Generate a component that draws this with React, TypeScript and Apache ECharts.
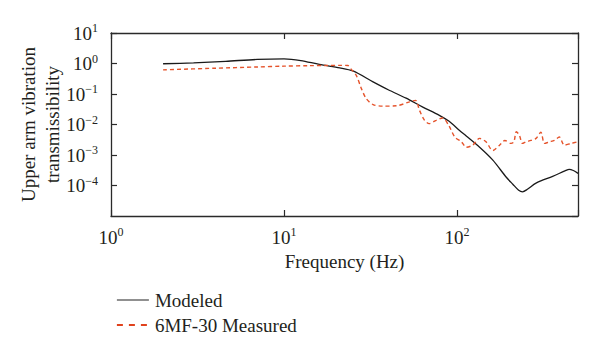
import React, { useEffect, useRef } from 'react';
import * as echarts from 'echarts';

// Modeled transmissibility (solid black)
const modeledFreq = [2, 3, 4.6, 7, 10, 12.5, 16, 21, 25, 32.7, 40, 50.8, 63, 79, 90, 103, 113, 135, 161, 192, 210, 227, 239, 255, 286, 357, 420, 445, 470, 500];
const modeledValues = [0.98, 1.05, 1.18, 1.36, 1.42, 1.25, 0.93, 0.72, 0.57, 0.25, 0.138, 0.073, 0.038, 0.02, 0.0127, 0.0065, 0.0042, 0.0018, 6.8e-4, 1.9e-4, 1.1e-4, 7e-5, 6.2e-5, 7.5e-5, 1.2e-4, 2e-4, 3e-4, 3.4e-4, 3.1e-4, 2.5e-4];

// 6MF-30 measured (dashed orange)
const measuredFreq = [2, 4, 7, 10, 14, 18, 21, 23.4, 24.5, 26.2, 28, 29.9, 32.7, 37.2, 44.5, 53, 57.5, 60.7, 64.9, 69, 75.7, 82.6, 90, 97, 106, 113, 123, 135, 147, 161, 176, 189, 205, 213, 220, 229, 239, 250, 267, 286, 305, 320, 342, 365, 390, 417, 455, 498];
const measuredValues = [0.62, 0.7, 0.77, 0.82, 0.85, 0.86, 0.87, 0.86, 0.64, 0.4, 0.15, 0.07, 0.045, 0.04, 0.041, 0.055, 0.062, 0.029, 0.0137, 0.0107, 0.0137, 0.0163, 0.0088, 0.0039, 0.0027, 0.0018, 0.0021, 0.0035, 0.0027, 0.0014, 0.0021, 0.003, 0.0024, 0.0027, 0.0058, 0.0045, 0.0024, 0.0027, 0.003, 0.0035, 0.0056, 0.0024, 0.0027, 0.003, 0.0039, 0.0021, 0.0024, 0.0027];

const seriesNames = ['Modeled', '6MF-30 Measured'];
const xRange = [1, 500];
const yRange = [1e-5, 10];

const FONT = '"Liberation Serif", "Times New Roman", serif';
const TEXT = '#231f20';
const AXIS = '#2a2a2a';
const ORANGE = '#e5532b';

function powerLabel(v: number): string {
  const e = Math.log10(v);
  const r = Math.round(e);
  if (Math.abs(e - r) > 1e-6) return '';
  const exp = r < 0 ? '\u2212' + String(-r) : String(r);
  return `{b|10}{s|${exp}}`;
}

const rich = {
  b: { fontSize: 19, fontFamily: FONT, color: TEXT, lineHeight: 22 },
  s: { fontSize: 12, fontFamily: FONT, color: TEXT, lineHeight: 9, verticalAlign: 'top' },
};

const axisCommon = {
  type: 'log',
  logBase: 10,
  splitLine: { show: false },
  axisLine: { show: true, lineStyle: { color: AXIS, width: 1.3 } },
  axisTick: { show: true, inside: true, length: 6, lineStyle: { color: AXIS, width: 1.2 } },
};

export default function App() {
  const ref = useRef<HTMLDivElement>(null);
  useEffect(() => {
    if (!ref.current) return;
    const chart = echarts.init(ref.current, undefined, { renderer: 'svg' });
    chart.setOption({
      animation: false,
      backgroundColor: '#ffffff',
      grid: { left: 111, right: 22, top: 33, bottom: 135 },
      xAxis: [
        {
          ...axisCommon,
          position: 'bottom',
          min: xRange[0],
          max: xRange[1],
          name: 'Frequency (Hz)',
          nameLocation: 'middle',
          nameMoveOverlap: false,
          nameGap: 36,
          nameTextStyle: { fontSize: 19, fontFamily: FONT, color: TEXT },
          axisLabel: { margin: 10, formatter: powerLabel, rich },
        },
        {
          ...axisCommon,
          position: 'top',
          min: xRange[0],
          max: xRange[1],
          axisLabel: { show: false },
        },
      ],
      yAxis: [
        {
          ...axisCommon,
          position: 'left',
          min: yRange[0],
          max: yRange[1],
          name: 'Upper arm vibration\ntransmissibility',
          nameLocation: 'middle',
          nameRotate: 90,
          nameMoveOverlap: false,
          nameGap: 47,
          nameTextStyle: { fontSize: 19, fontFamily: FONT, color: TEXT, lineHeight: 24 },
          axisLabel: { margin: 13, showMinLabel: false, formatter: (v: number) => (v < 2e-5 ? '' : powerLabel(v)), rich },
        },
        {
          ...axisCommon,
          position: 'right',
          min: yRange[0],
          max: yRange[1],
          axisLabel: { show: false },
        },
      ],
      legend: {
        orient: 'vertical',
        left: 111,
        top: 285,
        itemWidth: 32,
        itemHeight: 14,
        itemGap: 5,
        textStyle: { fontSize: 19, fontFamily: FONT, color: TEXT, lineHeight: 20, padding: [0, 0, 0, 1] },
        data: [
          { name: seriesNames[0], itemStyle: { opacity: 0 }, lineStyle: { color: '#222', width: 1.2, type: 'solid' } },
          { name: seriesNames[1], itemStyle: { opacity: 0 }, lineStyle: { color: '#e0421d', width: 1.8, type: [6, 6] } },
        ],
      },
      series: [
        {
          name: seriesNames[0],
          type: 'line',
          xAxisIndex: 0,
          yAxisIndex: 0,
          symbol: 'none',
          smooth: 0.3,
          lineStyle: { color: '#1a1a1a', width: 1.3 },
          itemStyle: { color: '#1a1a1a' },
          data: modeledFreq.map((f, i) => [f, modeledValues[i]]),
        },
        {
          name: seriesNames[1],
          type: 'line',
          xAxisIndex: 0,
          yAxisIndex: 0,
          symbol: 'none',
          smooth: 0.3,
          lineStyle: { color: ORANGE, width: 1.4, type: [4, 3] },
          itemStyle: { color: ORANGE },
          data: measuredFreq.map((f, i) => [f, measuredValues[i]]),
        },
      ],
    });
    return () => chart.dispose();
  }, []);
  return <div ref={ref} style={{ position: 'fixed', left: 0, top: 0, width: 600, height: 351 }} />;
}
